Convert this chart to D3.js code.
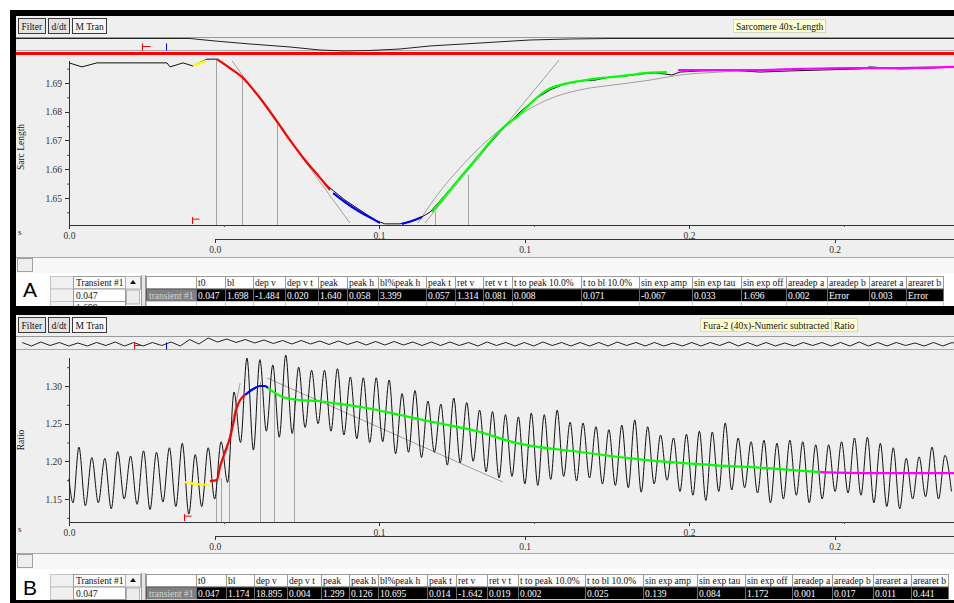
<!DOCTYPE html>
<html>
<head>
<meta charset="utf-8">
<script src="https://cdn.jsdelivr.net/npm/d3@7"></script>
<style>
  body { margin: 0; background: #fff; }
  svg { display: block; font-family: "Liberation Serif", "Times New Roman", serif; }
</style>
</head>
<body>
<svg id="chart" width="954" height="603"></svg>
<script>
// ---------- data: panel A (sarcomere length) ----------
const sarcT = [0.0000,0.0042,0.0090,0.0197,0.0316,0.0326,0.0368,0.0400,0.0445,0.0477,0.0519,0.0558,0.0616,0.0668,0.0713,0.0761,0.0810,0.0842,0.0890,0.0939,0.0987,0.1019,0.1052,0.1068,0.1100,0.1132,0.1165,0.1213,0.1261,0.1310,0.1358,0.1406,0.1455,0.1503,0.1552,0.1600,0.1648,0.1697,0.1745,0.1794,0.1842,0.1890,0.1923,0.1945,0.1971,0.2035,0.2132,0.2229,0.2326,0.2423,0.2552,0.2584,0.2681,0.2777,0.2855]
const sarcL = [1.6970,1.6956,1.6970,1.6970,1.6970,1.6956,1.6970,1.6959,1.6983,1.6983,1.6952,1.6921,1.6848,1.6771,1.6701,1.6632,1.6570,1.6535,1.6493,1.6458,1.6423,1.6410,1.6410,1.6410,1.6417,1.6430,1.6451,1.6510,1.6570,1.6632,1.6691,1.6747,1.6799,1.6844,1.6876,1.6897,1.6907,1.6910,1.6921,1.6924,1.6931,1.6935,1.6931,1.6928,1.6938,1.6942,1.6945,1.6938,1.6942,1.6945,1.6949,1.6956,1.6949,1.6952,1.6956]

const sarcYellow = [[0.0400,1.6959],[0.0442,1.6977]]
const sarcRed = [[0.0477,1.6983],[0.0519,1.6952],[0.0558,1.6921],[0.0616,1.6848],[0.0668,1.6771],[0.0713,1.6701],[0.0761,1.6632],[0.0810,1.6570],[0.0842,1.6528]]
const sarcBlue = [[0.0852,1.6517],[0.0890,1.6486],[0.0939,1.6451],[0.0987,1.6423],[0.1003,1.6413]]
const sarcBlue2 = [[0.1074,1.6410],[0.1106,1.6420],[0.1139,1.6434]]
const sarcGreen = [[0.1171,1.6451],[0.1213,1.6507],[0.1261,1.6570],[0.1310,1.6632],[0.1358,1.6695],[0.1406,1.6750],[0.1445,1.6782],[0.1487,1.6827],[0.1542,1.6876],[0.1600,1.6897],[0.1648,1.6907],[0.1713,1.6917],[0.1755,1.6921],[0.1810,1.6928],[0.1865,1.6935],[0.1929,1.6938]]
const sarcMagenta = [[0.1965,1.6945],[0.2100,1.6945],[0.2229,1.6945],[0.2358,1.6949],[0.2519,1.6952],[0.2681,1.6952],[0.2855,1.6956]]
const sarcDepTangent = [[0.0526,1.6977],[0.0906,1.6413]]
const sarcRetTangent = [[0.1148,1.6413],[0.1581,1.6980]]
const sarcExpFit = [[0.1126,1.6413],[0.1165,1.6476],[0.1213,1.6545],[0.1261,1.6604],[0.1326,1.6677],[0.1390,1.6737],[0.1445,1.6782],[0.1542,1.6841],[0.1648,1.6876],[0.1755,1.6893],[0.1874,1.6910],[0.1971,1.6928],[0.2100,1.6938],[0.2229,1.6945],[0.2358,1.6949],[0.2519,1.6952],[0.2855,1.6956]]
const sarcMarkT = [0.0474,0.0558,0.0671,0.1181,0.1287]
const sarcMarkV = [1.6983,1.6928,1.6761,1.6451,1.6580]

const ovSarcT = [0,0.0561,0.0642,0.0755,0.0884,0.0981,0.1061,0.1142,0.1239,0.1335,0.1497,0.1658,0.1787,0.1916,0.3026]
const ovSarcL = [1.6967,1.6967,1.6854,1.6718,1.6582,1.6445,1.6400,1.6423,1.6491,1.6627,1.6763,1.6899,1.6945,1.6967,1.6967]

// ---------- data: panel B (Fura-2 ratio) ----------
const ratioLead = [[0, 1.177], [0.0013, 1.145]]
const ratioT0 = 0.0032
const ratioCycle = 0.00417
const ratioPeaks = [1.219,1.205,1.204,1.213,1.207,1.214,1.212,1.218,1.224,1.209,
  1.218,1.226,1.292,1.337,1.335,1.328,1.341,1.325,1.321,1.321,
  1.323,1.312,1.311,1.311,1.308,1.290,1.294,1.280,1.276,1.284,
  1.278,1.268,1.266,1.262,1.259,1.264,1.262,1.268,1.252,1.251,
  1.246,1.242,1.248,1.255,1.246,1.235,1.231,1.236,1.240,1.239,
  1.251,1.231,1.226,1.228,1.224,1.228,1.226,1.222,1.222,1.226,
  1.231,1.232,1.224,1.218,1.204,1.206,1.219,1.208]
const ratioTroughs = [1.141,1.145,1.137,1.150,1.143,1.136,1.146,1.140,1.130,1.140,
  1.150,1.172,1.225,1.215,1.240,1.232,1.237,1.245,1.250,1.240,
  1.235,1.230,1.225,1.226,1.210,1.212,1.205,1.212,1.195,1.198,
  1.200,1.186,1.178,1.180,1.170,1.168,1.176,1.180,1.174,1.178,
  1.170,1.168,1.165,1.159,1.170,1.175,1.160,1.155,1.148,1.160,
  1.162,1.165,1.158,1.145,1.150,1.155,1.145,1.150,1.160,1.158,
  1.155,1.145,1.140,1.137,1.150,1.153,1.150,1.160]

const ratioYellow = [[0.0374,1.1725],[0.0413,1.1699],[0.0455,1.1685]]
const ratioRed = [[0.0455,1.1738],[0.0477,1.1752],[0.0487,1.1924],[0.0503,1.2124],[0.0519,1.2309],[0.0529,1.2482],[0.0539,1.2681],[0.0552,1.2814],[0.0568,1.2880]]
const ratioBlue = [[0.0568,1.2880],[0.0584,1.2934],[0.0600,1.2973],[0.0616,1.3000],[0.0632,1.3000],[0.0642,1.2973]]
const ratioGreen = [[0.0642,1.2973],[0.0690,1.2854],[0.0745,1.2814],[0.0800,1.2801],[0.0852,1.2774],[0.0961,1.2708],[0.1068,1.2615],[0.1174,1.2522],[0.1326,1.2389],[0.1432,1.2256],[0.1648,1.2124],[0.1865,1.2017],[0.2077,1.1951],[0.2294,1.1898],[0.2423,1.1858]]
const ratioMagenta = [[0.2423,1.1858],[0.2584,1.1845],[0.2855,1.1845]]
const ratioDepTangent = [[0.0506,1.2084],[0.0552,1.3040]]
const ratioRetTangent = [[0.0639,1.3106],[0.1400,1.1725]]
const ratioMarkT = [0.0474,0.0490,0.0516,0.0616,0.0661,0.0726]
const ratioMarkV = [1.1752,1.1778,1.2084,1.3053,1.2920,1.2841]

const ovRatioT0 = 0.002
const ovRatioCycle = 0.006
const ovRatioPeaks = [1.21,1.22,1.21,1.20,1.21,1.22,1.21,1.21,1.22,1.27,
  1.30,1.28,1.27,1.26,1.25,1.25,1.24,1.24,1.23,1.23,
  1.23,1.22,1.22,1.22,1.21,1.22,1.21,1.21,1.22,1.21,
  1.21,1.21,1.22,1.21,1.21,1.20,1.21,1.21,1.22,1.21,
  1.21,1.20,1.21,1.21,1.21,1.22,1.21,1.21,1.20,1.21,1.21]
const ovRatioTroughs = [1.14,1.15,1.14,1.14,1.15,1.14,1.14,1.15,1.14,1.18,
  1.22,1.21,1.20,1.19,1.18,1.18,1.17,1.17,1.16,1.16,
  1.16,1.15,1.15,1.15,1.14,1.15,1.14,1.14,1.15,1.14,
  1.14,1.14,1.15,1.14,1.14,1.14,1.14,1.15,1.14,1.14,
  1.14,1.14,1.15,1.14,1.14,1.14,1.14,1.15,1.14,1.14,1.14]

// ---------- tables ----------
const buttonLabels = ['Filter', 'd/dt', 'M Tran']
const tableHeaders = ['t0','bl','dep v','dep v t','peak','peak h','bl%peak h','peak t','ret v','ret v t','t to peak 10.0%','t to bl 10.0%','sin exp amp','sin exp tau','sin exp off','areadep a','areadep b','arearet a','arearet b']
const valuesA = ['0.047','1.698','-1.484','0.020','1.640','0.058','3.399','0.057','1.314','0.081','0.008','0.071','-0.067','0.033','1.696','0.002','Error','0.003','Error']
const valuesB = ['0.047','1.174','18.895','0.004','1.299','0.126','10.695','0.014','-1.642','0.019','0.002','0.025','0.139','0.084','1.172','0.001','0.017','0.011','0.441']

// ---------- drawing ----------
const W = 954, H = 603
const UI_FONT = 9.5
const svg = d3.select('#chart')

svg.append('rect').attr('x', 10).attr('y', 10).attr('width', W - 10).attr('height', H - 10).attr('fill', '#000')

const x = d3.scaleLinear().domain([0, 0.2855]).range([69, 954])
const xRel = d3.scaleLinear().domain([0, 0.2855 - 0.047]).range([x(0.047), 954])
const ovX = d3.scaleLinear().domain([0, 0.3026]).range([16, 954])

function textWidth(str, size) {
  const t = svg.append('text').style('font-size', size + 'px').text(str)
  const w = t.node().getComputedTextLength()
  t.remove()
  return w
}

function zigzag(lead, t0, cycle, peaks, troughs) {
  const pts = lead ? lead.slice() : []
  peaks.forEach((p, k) => {
    pts.push([t0 + k * cycle, p])
    pts.push([t0 + (k + 0.5) * cycle, troughs[k]])
  })
  return pts
}

const panels = [
  {
    key: 'A', top: 16, bottom: 306, ovTop: 37.5, ovBot: 50.5, redLine: true, plotTop: 55,
    axisY: 225, axis2Y: 239, scrollY: 257, tableY: 276,
    y: d3.scaleLinear().domain([1.6406, 1.698]).range([225, 60]),
    yTicks: [1.65, 1.66, 1.67, 1.68, 1.69], yMinor: [1.645, 1.655, 1.665, 1.675, 1.685, 1.695],
    yFormat: d3.format('.2f'), yLabel: 'Sarc Length', yLabelY: 147,
    ovY: d3.scaleLinear().domain([1.640, 1.699]).range([51, 38]),
    ovData: d3.zip(ovSarcT, ovSarcL), ovRed: 0.0406, ovBlue: 0.0484,
    trace: d3.zip(sarcT, sarcL), traceCurve: d3.curveLinear,
    grayFits: [sarcDepTangent, sarcRetTangent, sarcExpFit],
    fits: [[sarcYellow, '#ffff00'], [sarcRed, '#ff0000'], [sarcBlue, '#0000ff'], [sarcBlue2, '#0000ff'], [sarcGreen, '#00ff00'], [sarcMagenta, '#ff00ff']],
    markT: sarcMarkT, markV: sarcMarkV, startMark: [0.0397, 1.6423],
    titles: ['Sarcomere 40x-Length'], titleX: 733,
    colEdges: [196, 225, 253, 285, 318, 347, 378, 426, 455, 483, 512, 581, 639, 692, 741, 786, 827, 869, 906, 943],
    values: valuesA, thirdRow: '1.698'
  },
  {
    key: 'B', top: 315, bottom: 600, ovTop: 336.5, ovBot: 349.5, redLine: false, plotTop: 350,
    axisY: 522, axis2Y: 536, scrollY: 553, tableY: 574,
    y: d3.scaleLinear().domain([1.1195, 1.3385]).range([522, 357]),
    yTicks: [1.15, 1.20, 1.25, 1.30], yMinor: [1.125, 1.175, 1.225, 1.275, 1.325],
    yFormat: d3.format('.2f'), yLabel: 'Ratio', yLabelY: 440,
    ovY: d3.scaleLinear().domain([1.10, 1.30]).range([348, 338]),
    ovData: zigzag(null, ovRatioT0, ovRatioCycle, ovRatioPeaks, ovRatioTroughs), ovRed: 0.0381, ovBlue: 0.0484,
    trace: zigzag(ratioLead, ratioT0, ratioCycle, ratioPeaks, ratioTroughs), traceCurve: d3.curveMonotoneX,
    grayFits: [ratioDepTangent, ratioRetTangent],
    fits: [[ratioYellow, '#ffff00'], [ratioRed, '#ff0000'], [ratioBlue, '#0000ff'], [ratioGreen, '#00ff00'], [ratioMagenta, '#ff00ff']],
    markT: ratioMarkT, markV: ratioMarkV, startMark: [0.0371, 1.126],
    titles: ['Fura-2 (40x)-Numeric subtracted', 'Ratio'], titleX: 700,
    colEdges: [196, 226, 254, 287, 321, 349, 378, 427, 456, 487, 518, 585, 643, 697, 745, 792, 832, 873, 911, 948],
    values: valuesB, thirdRow: null
  }
]

function styleAxis(sel) {
  sel.selectAll('path, line').attr('stroke', '#333').attr('shape-rendering', 'crispEdges')
  sel.selectAll('text').attr('fill', '#333').style('font-size', '9.5px').style('font-family', '"Liberation Serif", serif')
}

function drawPanel(p) {
  const g = svg.append('g')
  const clipId = 'clip' + p.key

  g.append('rect').attr('x', 16).attr('y', p.top).attr('width', W - 16).attr('height', p.bottom - p.top).attr('fill', '#fff')
  g.append('rect').attr('x', 16).attr('y', p.top).attr('width', W - 16).attr('height', p.scrollY - p.top).attr('fill', '#efefef')

  // toolbar buttons
  let bx = 18
  buttonLabels.forEach(label => {
    const w = Math.round(textWidth(label, UI_FONT) + 6)
    g.append('rect').attr('x', bx + 0.5).attr('y', p.top + 2.5).attr('width', w).attr('height', 15)
      .attr('fill', label === 'M Tran' ? '#f6f6f6' : '#e4e4e4').attr('stroke', '#3a3a3a')
    g.append('text').attr('x', bx + 3.5).attr('y', p.top + 13.5).style('font-size', UI_FONT + 'px').attr('fill', '#111').text(label)
    bx += w + 3
  })

  // title boxes
  let tx = p.titleX
  p.titles.forEach(title => {
    const w = Math.round(textWidth(title, UI_FONT) + 5)
    g.append('rect').attr('x', tx + 0.5).attr('y', p.top + 3.5).attr('width', w).attr('height', 13)
      .attr('fill', '#ffffd2').attr('stroke', '#d8d8c0')
    g.append('text').attr('x', tx + 3).attr('y', p.top + 13.5).style('font-size', UI_FONT + 'px').attr('fill', '#111').text(title)
    tx += w
  })

  // overview strip
  g.append('line').attr('x1', 16).attr('x2', W).attr('y1', p.ovTop).attr('y2', p.ovTop).attr('stroke', '#999')
  g.append('line').attr('x1', 16).attr('x2', W).attr('y1', p.ovBot).attr('y2', p.ovBot).attr('stroke', '#aaa')
  const ovLine = d3.line().x(d => ovX(d[0])).y(d => p.ovY(d[1]))
  g.append('path').datum(p.ovData).attr('d', ovLine).attr('fill', 'none').attr('stroke', '#222').attr('stroke-width', 1)
  const rx = Math.round(ovX(p.ovRed)) + 0.5
  g.append('path').attr('d', `M${rx},${p.ovBot - 7}V${p.ovBot}M${rx},${p.ovBot - 4}H${rx + 8}`)
    .attr('stroke', '#ff0000').attr('fill', 'none')
  const blx = Math.round(ovX(p.ovBlue)) + 0.5
  g.append('line').attr('x1', blx).attr('x2', blx).attr('y1', p.ovBot - 7).attr('y2', p.ovBot).attr('stroke', '#0000ff')
  if (p.redLine) {
    g.append('rect').attr('x', 16).attr('y', p.ovBot + 1.5).attr('width', W - 16).attr('height', 3).attr('fill', '#ff0000')
  }

  // axes
  const yAxis = g.append('g').attr('transform', 'translate(69,0)')
    .call(d3.axisLeft(p.y).tickValues(p.yTicks).tickFormat(p.yFormat).tickSize(4).tickSizeOuter(0))
  g.append('g').attr('transform', 'translate(69,0)')
    .call(d3.axisLeft(p.y).tickValues(p.yMinor).tickFormat('').tickSize(2).tickSizeOuter(0))
    .call(s => s.select('.domain').remove())
    .selectAll('line').attr('stroke', '#555')
  styleAxis(yAxis)

  const xAxis = g.append('g').attr('transform', `translate(0,${p.axisY})`)
    .call(d3.axisBottom(x).tickValues([0, 0.1, 0.2]).tickFormat(d3.format('.1f')).tickSize(4).tickSizeOuter(0))
  g.append('g').attr('transform', `translate(0,${p.axisY})`)
    .call(d3.axisBottom(x).tickValues([0.05, 0.15, 0.25]).tickFormat('').tickSize(2).tickSizeOuter(0))
    .call(s => s.select('.domain').remove())
    .selectAll('line').attr('stroke', '#555')
  styleAxis(xAxis)

  const xAxis2 = g.append('g').attr('transform', `translate(0,${p.axis2Y})`)
    .call(d3.axisBottom(xRel).tickValues([0, 0.1, 0.2]).tickFormat(d3.format('.1f')).tickSize(4).tickSizeOuter(0))
  styleAxis(xAxis2)

  g.append('text').attr('x', 18).attr('y', p.axisY + 10).style('font-size', '9px').attr('fill', '#222').text('s')
  g.append('text').attr('transform', `translate(24,${p.yLabelY}) rotate(-90)`).attr('text-anchor', 'middle')
    .style('font-size', '9.5px').attr('fill', '#222').text(p.yLabel)

  // plot contents
  g.append('clipPath').attr('id', clipId).append('rect')
    .attr('x', 16).attr('y', p.plotTop).attr('width', W - 16).attr('height', p.axisY - p.plotTop)
  const plot = g.append('g').attr('clip-path', `url(#${clipId})`)

  const line = d3.line().x(d => x(d[0])).y(d => p.y(d[1]))

  plot.selectAll('.mark').data(d3.zip(p.markT, p.markV)).enter().append('line')
    .attr('x1', d => Math.round(x(d[0])) + 0.5).attr('x2', d => Math.round(x(d[0])) + 0.5)
    .attr('y1', p.axisY).attr('y2', d => p.y(d[1]))
    .attr('stroke', '#a4a4a4')

  p.grayFits.forEach(f => {
    plot.append('path').datum(f).attr('d', line.curve(d3.curveMonotoneX)).attr('fill', 'none').attr('stroke', '#a0a0a0').attr('stroke-width', 1)
  })

  plot.append('path').datum(p.trace).attr('d', line.curve(p.traceCurve)).attr('fill', 'none')
    .attr('stroke', '#111').attr('stroke-width', 1)

  p.fits.forEach(([f, color]) => {
    plot.append('path').datum(f).attr('d', line.curve(d3.curveMonotoneX)).attr('fill', 'none')
      .attr('stroke', color).attr('stroke-width', 2.2)
  })

  const mx = Math.round(x(p.startMark[0])) + 0.5, my = p.y(p.startMark[1])
  g.append('path').attr('d', `M${mx},${my - 3}V${my + 4}M${mx},${my - 1}H${mx + 7}`)
    .attr('stroke', '#ff0000').attr('fill', 'none')

  // scroll strip
  g.append('rect').attr('x', 16).attr('y', p.scrollY).attr('width', W - 16).attr('height', 16).attr('fill', '#f7f7f7')
  g.append('line').attr('x1', 16).attr('x2', W).attr('y1', p.scrollY + 0.5).attr('y2', p.scrollY + 0.5).attr('stroke', '#a8a8a8')
  g.append('rect').attr('x', 17.5).attr('y', p.scrollY + 1.5).attr('width', 15).attr('height', 13)
    .attr('fill', '#eeeeee').attr('stroke', '#a0a0a0')

  drawTables(g, p)
}

function drawTables(g, p) {
  const rh = 12.5
  const ty = p.tableY
  const tclip = 'tclip' + p.key
  g.append('clipPath').attr('id', tclip).append('rect')
    .attr('x', 16).attr('y', ty - 2).attr('width', W - 16).attr('height', p.bottom - ty + 2)
  const t = g.append('g').attr('clip-path', `url(#${tclip})`).style('font-size', UI_FONT + 'px')

  // panel letter
  t.append('text').attr('x', 23).attr('y', ty + 21).style('font-family', '"Liberation Sans", Arial, sans-serif')
    .style('font-size', '21px').attr('fill', '#000').text(p.key)

  // left mini table
  const leftRows = ['Transient #1', p.values[0], p.thirdRow]
  leftRows.forEach((label, r) => {
    const yy = ty + r * rh
    t.append('rect').attr('x', 50.5).attr('y', yy + 0.5).attr('width', 23).attr('height', rh)
      .attr('fill', '#f0f0f0').attr('stroke', '#c4c4c4')
    t.append('rect').attr('x', 73.5).attr('y', yy + 0.5).attr('width', 52).attr('height', rh)
      .attr('fill', '#fff').attr('stroke', '#9a9a9a')
    if (label) t.append('text').attr('x', 76).attr('y', yy + 10).attr('fill', '#111').text(label)
  })
  t.append('rect').attr('x', 125.5).attr('y', ty + 0.5).attr('width', 15).attr('height', rh)
    .attr('fill', '#f4f4f4').attr('stroke', '#b0b0b0')
  t.append('path').attr('d', `M133,${ty + 4}l3,4h-6z`).attr('fill', '#111')
  t.append('rect').attr('x', 126.5).attr('y', ty + rh + 1.5).attr('width', 13).attr('height', 14)
    .attr('fill', '#ececec').attr('stroke', '#b0b0b0')
  t.append('rect').attr('x', 141).attr('y', ty - 1).attr('width', 5).attr('height', p.bottom - ty + 1).attr('fill', '#e6e6e6')
  t.append('line').attr('x1', 141.5).attr('x2', 141.5).attr('y1', ty - 1).attr('y2', p.bottom).attr('stroke', '#999')
  t.append('line').attr('x1', 145.5).attr('x2', 145.5).attr('y1', ty - 1).attr('y2', p.bottom).attr('stroke', '#999')

  // results table
  const x0 = 146
  const firstW = p.colEdges[0] - x0
  t.append('rect').attr('x', x0 + 0.5).attr('y', ty + 0.5).attr('width', firstW).attr('height', rh)
    .attr('fill', '#fff').attr('stroke', '#9a9a9a')
  t.append('rect').attr('x', x0 + 0.5).attr('y', ty + rh + 0.5).attr('width', firstW).attr('height', rh)
    .attr('fill', '#808080').attr('stroke', '#5a5a5a')
  t.append('text').attr('x', x0 + 3).attr('y', ty + rh + 10).attr('fill', '#d4d4d4').text('transient #1')
  t.append('rect').attr('x', x0 + 0.5).attr('y', ty + 2 * rh + 0.5).attr('width', firstW).attr('height', rh)
    .attr('fill', '#fff').attr('stroke', '#c8c8c8')

  tableHeaders.forEach((h, i) => {
    const cx = p.colEdges[i]
    const w = p.colEdges[i + 1] - cx
    t.append('rect').attr('x', cx + 0.5).attr('y', ty + 0.5).attr('width', w).attr('height', rh)
      .attr('fill', '#fff').attr('stroke', '#9a9a9a')
    t.append('text').attr('x', cx + 2).attr('y', ty + 10).attr('fill', '#111').text(h)
    t.append('rect').attr('x', cx + 0.5).attr('y', ty + rh + 0.5).attr('width', w).attr('height', rh)
      .attr('fill', '#000').attr('stroke', '#6a6a6a')
    t.append('text').attr('x', cx + 2).attr('y', ty + rh + 10).attr('fill', '#fff').text(p.values[i])
    t.append('rect').attr('x', cx + 0.5).attr('y', ty + 2 * rh + 0.5).attr('width', w).attr('height', rh)
      .attr('fill', '#fff').attr('stroke', '#c8c8c8')
  })
}

panels.forEach(drawPanel)

// black separator between the panels
svg.append('rect').attr('x', 10).attr('y', 306).attr('width', W - 10).attr('height', 9).attr('fill', '#000')
</script>
</body>
</html>
